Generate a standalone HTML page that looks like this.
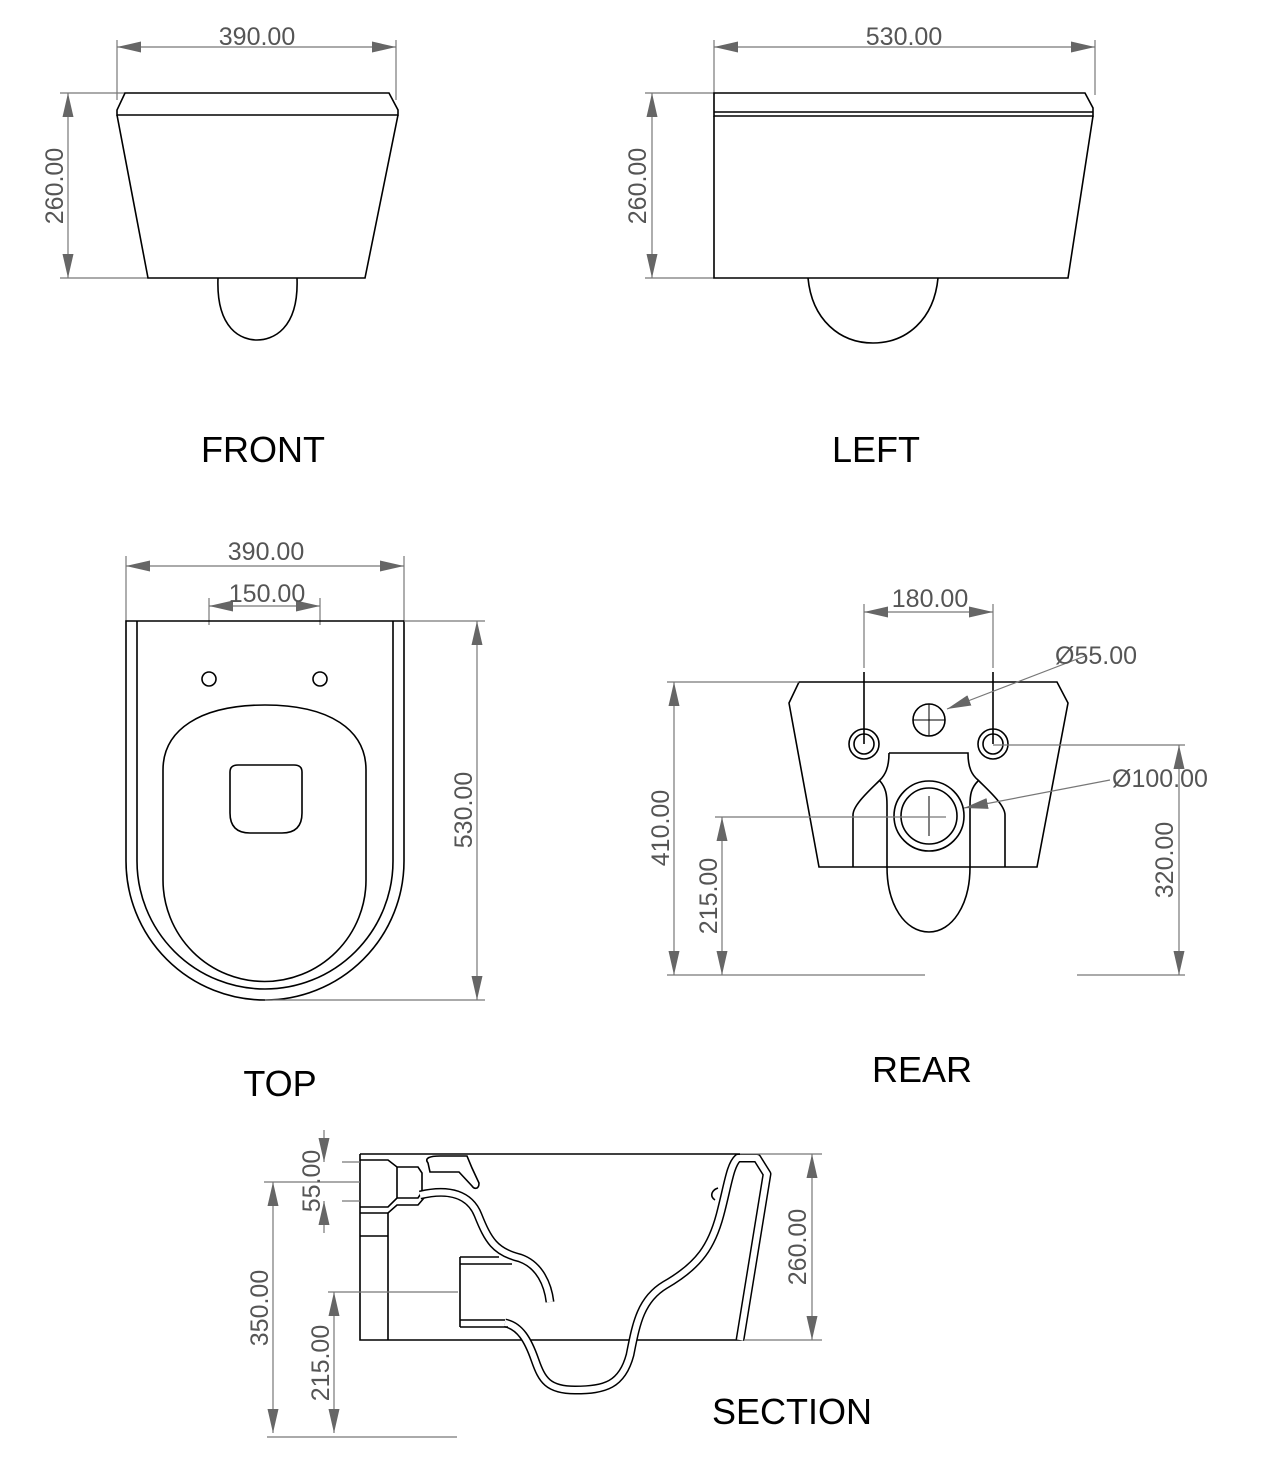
<!DOCTYPE html>
<html><head><meta charset="utf-8"><style>
html,body{margin:0;padding:0;background:#fff}
svg{display:block}
.d{stroke:#777;stroke-width:1.2;fill:none}
.s{stroke:#000;stroke-width:1.6;fill:none}
.t{font-family:"Liberation Sans",sans-serif;font-size:25px;fill:#555}
.L{font-family:"Liberation Sans",sans-serif;font-size:36px;fill:#000}
</style></head><body>
<svg width="1264" height="1464" viewBox="0 0 1264 1464" xmlns="http://www.w3.org/2000/svg">
<defs>
<marker id="a" viewBox="0 0 24 11" refX="24" refY="5.5" markerWidth="24" markerHeight="11" markerUnits="userSpaceOnUse" orient="auto-start-reverse"><path d="M0,0L24,5.5L0,11z" fill="#666"/></marker>
</defs>
<!-- FRONT -->
<line class="d" x1="117" y1="40" x2="117" y2="100"/><line class="d" x1="396" y1="40" x2="396" y2="100"/>
<line class="d" x1="117" y1="47" x2="396" y2="47" marker-start="url(#a)" marker-end="url(#a)"/>
<text class="t" x="257" y="45" text-anchor="middle">390.00</text>
<line class="d" x1="60" y1="93" x2="125" y2="93"/><line class="d" x1="60" y1="278" x2="148" y2="278"/>
<line class="d" x1="68" y1="93" x2="68" y2="278" marker-start="url(#a)" marker-end="url(#a)"/>
<text class="t" transform="translate(63,186) rotate(-90)" text-anchor="middle">260.00</text>
<path class="s" d="M125,93 H389 L398,110 V115 H117 V110 Z"/>
<path class="s" d="M117,115 L148,278 H365 L398,115"/>
<path class="s" d="M218,278 C216,330 242,340 257,340 C272,340 299,330 297,278"/>
<!-- LEFT -->
<line class="d" x1="714" y1="40" x2="714" y2="95"/><line class="d" x1="1095" y1="40" x2="1095" y2="95"/>
<line class="d" x1="714" y1="47" x2="1095" y2="47" marker-start="url(#a)" marker-end="url(#a)"/>
<text class="t" x="904" y="45" text-anchor="middle">530.00</text>
<line class="d" x1="645" y1="93" x2="714" y2="93"/><line class="d" x1="645" y1="278" x2="714" y2="278"/>
<line class="d" x1="652" y1="93" x2="652" y2="278" marker-start="url(#a)" marker-end="url(#a)"/>
<text class="t" transform="translate(646,186) rotate(-90)" text-anchor="middle">260.00</text>
<path class="s" d="M714,93 H1085 L1093,108 V116 H714 Z M714,112 H1093"/>
<path class="s" d="M714,116 V278 H1068 L1093,116"/>
<path class="s" d="M808,278 C812,320 840,343 873,343 C906,343 934,320 938,278"/>
<text class="L" x="263" y="462" text-anchor="middle">FRONT</text>
<text class="L" x="876" y="462" text-anchor="middle">LEFT</text>
<!-- TOP -->
<line class="d" x1="126" y1="556" x2="126" y2="621"/><line class="d" x1="404" y1="556" x2="404" y2="621"/>
<line class="d" x1="126" y1="566" x2="404" y2="566" marker-start="url(#a)" marker-end="url(#a)"/>
<text class="t" x="266" y="560" text-anchor="middle">390.00</text>
<line class="d" x1="209" y1="598" x2="209" y2="625"/><line class="d" x1="320" y1="598" x2="320" y2="625"/>
<line class="d" x1="209" y1="606" x2="320" y2="606" marker-start="url(#a)" marker-end="url(#a)"/>
<text class="t" x="267" y="602" text-anchor="middle">150.00</text>
<path class="s" d="M126,621 H404 V861 A139,139 0 0 1 126,861 Z"/>
<path class="s" d="M137,621 V861 A128,128 0 0 0 393,861 V621" stroke-width="1.2"/>
<circle class="s" cx="209" cy="679" r="7"/><circle class="s" cx="320" cy="679" r="7"/>
<path class="s" d="M163,770 C163,730 200,705 265,705 C330,705 366,730 366,770 V880 A101,101 0 0 1 163,880 Z"/>
<path class="s" d="M230,772 Q230,765 238,765 H294 Q302,765 302,772 V813 Q302,833 282,833 H250 Q230,833 230,813 Z"/>
<line class="d" x1="404" y1="621" x2="485" y2="621"/><line class="d" x1="265" y1="1000" x2="485" y2="1000"/>
<line class="d" x1="477" y1="621" x2="477" y2="1000" marker-start="url(#a)" marker-end="url(#a)"/>
<text class="t" transform="translate(472,810) rotate(-90)" text-anchor="middle">530.00</text>
<text class="L" x="280" y="1096" text-anchor="middle">TOP</text>
<!-- REAR -->
<line class="d" x1="864" y1="604" x2="864" y2="668"/><line class="d" x1="993" y1="604" x2="993" y2="668"/>
<line class="d" x1="864" y1="612" x2="993" y2="612" marker-start="url(#a)" marker-end="url(#a)"/>
<text class="t" x="930" y="607" text-anchor="middle">180.00</text>
<line class="s" x1="864" y1="672" x2="864" y2="744" stroke-width="1.2"/><line class="s" x1="993" y1="672" x2="993" y2="744" stroke-width="1.2"/>
<path class="s" d="M799,682 H1057 L1068,703 L1037,867 H819 L789,703 Z"/>
<circle class="s" cx="864" cy="744" r="15"/><circle class="s" cx="864" cy="744" r="10"/>
<circle class="s" cx="993" cy="744" r="15"/><circle class="s" cx="993" cy="744" r="10"/>
<circle class="s" cx="929" cy="720" r="16"/>
<line x1="913" y1="720" x2="945" y2="720" stroke="#000" stroke-width="1"/><line x1="929" y1="704" x2="929" y2="736" stroke="#000" stroke-width="1"/>
<line class="d" x1="993" y1="745" x2="1185" y2="745"/>
<path class="s" d="M889,753 H968 C968,768 972,775 978,780 C988,790 1005,805 1005,815 V867 M889,753 C889,768 885,775 880,780 C870,790 853,805 853,815 V867" stroke-width="1.4"/>
<path class="s" d="M880,781 C886,788 887,795 887,805 V867 C887,905 905,932 929,932 C952,932 970,905 970,867 V805 C970,795 971,788 978,781" stroke-width="1.4"/>
<circle class="s" cx="929" cy="816" r="35" fill="#fff"/><circle class="s" cx="929" cy="816" r="28"/>
<line x1="929" y1="796" x2="929" y2="836" stroke="#000" stroke-width="1"/>
<line class="d" x1="715" y1="817" x2="946" y2="817"/>
<line class="d" x1="1085" y1="656" x2="947" y2="709" marker-end="url(#a)"/>
<text class="t" x="1055" y="664">Ø55.00</text>
<line class="d" x1="1110" y1="780" x2="964" y2="808" marker-end="url(#a)"/>
<text class="t" x="1112" y="787">Ø100.00</text>
<line class="d" x1="667" y1="682" x2="799" y2="682"/>
<line class="d" x1="667" y1="975" x2="925" y2="975"/><line class="d" x1="1077" y1="975" x2="1185" y2="975"/>
<line class="d" x1="674" y1="682" x2="674" y2="975" marker-start="url(#a)" marker-end="url(#a)"/>
<text class="t" transform="translate(669,828) rotate(-90)" text-anchor="middle">410.00</text>
<line class="d" x1="722" y1="817" x2="722" y2="975" marker-start="url(#a)" marker-end="url(#a)"/>
<text class="t" transform="translate(717,896) rotate(-90)" text-anchor="middle">215.00</text>
<line class="d" x1="1179" y1="745" x2="1179" y2="975" marker-start="url(#a)" marker-end="url(#a)"/>
<text class="t" transform="translate(1173,860) rotate(-90)" text-anchor="middle">320.00</text>
<text class="L" x="922" y="1082" text-anchor="middle">REAR</text>
<!-- SECTION -->
<path class="s" d="M360,1154 H740 M360,1154 V1340 H744 M388,1213 V1340 M360,1236 H388" stroke-width="1.4"/>
<path class="s" d="M360,1160 H388 L397,1167 H418 L422,1173 V1192 L418,1198 H397 L388,1207 H360 M397,1167 V1198 M360,1213 H388 L397,1205 H418 L424,1198" stroke-width="1.3"/>
<!-- spout wall double line -->
<path d="M420,1195 C450,1188 470,1195 478,1215 C488,1240 495,1252 520,1258 C540,1265 548,1285 550,1302" fill="none" stroke="#000" stroke-width="9"/>
<path d="M420,1195 C450,1188 470,1195 478,1215 C488,1240 495,1252 520,1258 C540,1265 548,1285 550,1302" fill="none" stroke="#fff" stroke-width="6"/>
<!-- hook -->
<path class="s" d="M428,1163 C424,1158 430,1156 440,1156 H467 L472,1168 L479,1183 C479,1190 474,1189 472,1186 L459,1172 H430 Z" stroke-width="1.3"/>
<!-- bowl double line -->
<path d="M505,1323 C520,1326 528,1340 535,1360 C542,1380 548,1390 575,1390 C605,1390 622,1385 630,1355 C636,1325 640,1300 665,1285 C700,1265 712,1245 720,1215 C728,1185 730,1165 738,1158 H757 L767,1174 L740,1340" fill="none" stroke="#000" stroke-width="9" stroke-linejoin="round"/>
<path d="M505,1323 C520,1326 528,1340 535,1360 C542,1380 548,1390 575,1390 C605,1390 622,1385 630,1355 C636,1325 640,1300 665,1285 C700,1265 712,1245 720,1215 C728,1185 730,1165 738,1158 H757 L767,1174 L740,1340" fill="none" stroke="#fff" stroke-width="6" stroke-linejoin="round"/>
<path class="s" d="M460,1257 V1327 M460,1257 H499 M460,1264 H512 M460,1320 H505 M460,1327 H508" stroke-width="1.3"/>
<path class="s" d="M715,1200 C709,1196 712,1190 718,1188" stroke-width="1.2"/>
<line class="d" x1="342" y1="1162" x2="360" y2="1162"/><line class="d" x1="342" y1="1201" x2="360" y2="1201"/>
<line class="d" x1="264" y1="1182" x2="360" y2="1182"/>
<line class="d" x1="324" y1="1130" x2="324" y2="1162" marker-end="url(#a)"/>
<line class="d" x1="324" y1="1233" x2="324" y2="1201" marker-end="url(#a)"/>
<text class="t" transform="translate(320,1181) rotate(-90)" text-anchor="middle">55.00</text>
<line class="d" x1="273" y1="1182" x2="273" y2="1433" marker-start="url(#a)" marker-end="url(#a)"/>
<text class="t" transform="translate(268,1308) rotate(-90)" text-anchor="middle">350.00</text>
<line class="d" x1="328" y1="1292" x2="458" y2="1292"/>
<line class="d" x1="334" y1="1292" x2="334" y2="1433" marker-start="url(#a)" marker-end="url(#a)"/>
<text class="t" transform="translate(329,1363) rotate(-90)" text-anchor="middle">215.00</text>
<line class="d" x1="267" y1="1437" x2="457" y2="1437"/>
<line class="d" x1="740" y1="1154" x2="822" y2="1154"/><line class="d" x1="744" y1="1340" x2="822" y2="1340"/>
<line class="d" x1="812" y1="1154" x2="812" y2="1340" marker-start="url(#a)" marker-end="url(#a)"/>
<text class="t" transform="translate(806,1247) rotate(-90)" text-anchor="middle">260.00</text>
<text class="L" x="792" y="1424" text-anchor="middle">SECTION</text>
</svg>
</body></html>
